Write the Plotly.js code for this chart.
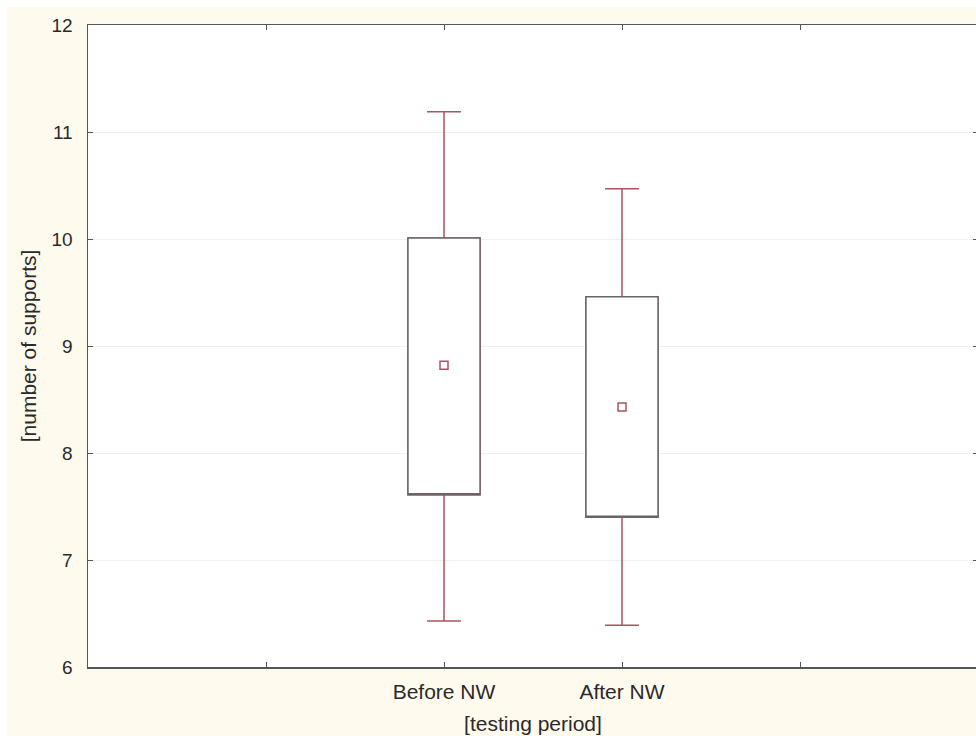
<!DOCTYPE html>
<html>
<head>
<meta charset="utf-8">
<script src="https://cdn.plot.ly/plotly-3.0.1.min.js"></script>
<style>
html,body{margin:0;padding:0;background:#ffffff;overflow:hidden;width:976px;height:736px;}
#chart{position:absolute;left:7px;top:7px;}
</style>
</head>
<body>
<div id="chart"></div>
<script>
// Data (mean, ±SE box, ±SD whiskers)
var categories = ["Before NW", "After NW"];
var positions = [2, 3];
var means = [8.82, 8.43];
var boxLow = [7.61, 7.40];
var boxHigh = [10.01, 9.46];
var whiskerLow = [6.43, 6.39];
var whiskerHigh = [11.19, 10.47];
var xTickVals = [1, 2, 3, 4];
var xTickText = ["", "Before NW", "After NW", ""];
var yTickVals = [6, 7, 8, 9, 10, 11, 12];

var whiskerColor = "#a85560";
var boxColor = "#6b6466";
var font = "Liberation Sans, Arial, sans-serif";
var textColor = "#2a2a2a";

var traces = [];
categories.forEach(function(c, i) {
  // whiskers (red-brown) with caps
  traces.push({
    type: "box", x: [positions[i]], q1: [boxLow[i]], q3: [boxHigh[i]], median: [boxLow[i]],
    lowerfence: [whiskerLow[i]], upperfence: [whiskerHigh[i]],
    width: 0.405, whiskerwidth: 0.47, fillcolor: "#ffffff",
    line: {color: whiskerColor, width: 1.5}, hoverinfo: "skip", showlegend: false
  });
  // box (grey) on top
  traces.push({
    type: "box", x: [positions[i]], q1: [boxLow[i]], q3: [boxHigh[i]], median: [boxLow[i]],
    lowerfence: [boxLow[i]], upperfence: [boxHigh[i]],
    width: 0.405, whiskerwidth: 0, fillcolor: "#ffffff",
    line: {color: boxColor, width: 1.5}, hoverinfo: "skip", showlegend: false
  });
});
traces.push({
  type: "scatter", mode: "markers", x: positions, y: means,
  marker: {symbol: "square-open", size: 8, color: whiskerColor, line: {width: 1.5, color: whiskerColor}},
  showlegend: false, hoverinfo: "skip"
});

var layout = {
  width: 980, height: 729,
  margin: {l: 81, r: 9, t: 18, b: 69},
  paper_bgcolor: "#fffaee",
  plot_bgcolor: "#ffffff",
  boxmode: "overlay",
  showlegend: false,
  font: {family: font, size: 19, color: textColor},
  xaxis: {
    range: [0, 5], tickvals: xTickVals, ticktext: xTickText,
    showgrid: false, zeroline: false,
    showline: true, linecolor: "#555555", linewidth: 1.5, mirror: "ticks",
    ticks: "inside", ticklen: 5, tickcolor: "#555555", tickwidth: 1,
    ticklabelstandoff: 5,
    tickfont: {family: font, size: 21, color: textColor},
    title: {text: "[testing period]", font: {family: font, size: 21, color: textColor}, standoff: 14}
  },
  yaxis: {
    range: [6, 12], tickvals: yTickVals,
    showgrid: true, gridcolor: "#f0f0f0", gridwidth: 1, zeroline: false,
    showline: true, linecolor: "#555555", linewidth: 1.5, mirror: "ticks",
    ticks: "inside", ticklen: 5, tickcolor: "#555555", tickwidth: 1,
    ticklabelstandoff: 10,
    tickfont: {family: font, size: 19, color: textColor},
    title: {text: "[number of supports]", font: {family: font, size: 21, color: textColor}, standoff: 9}
  }
};

Plotly.newPlot("chart", traces, layout, {displayModeBar: false, staticPlot: true});
</script>
</body>
</html>
